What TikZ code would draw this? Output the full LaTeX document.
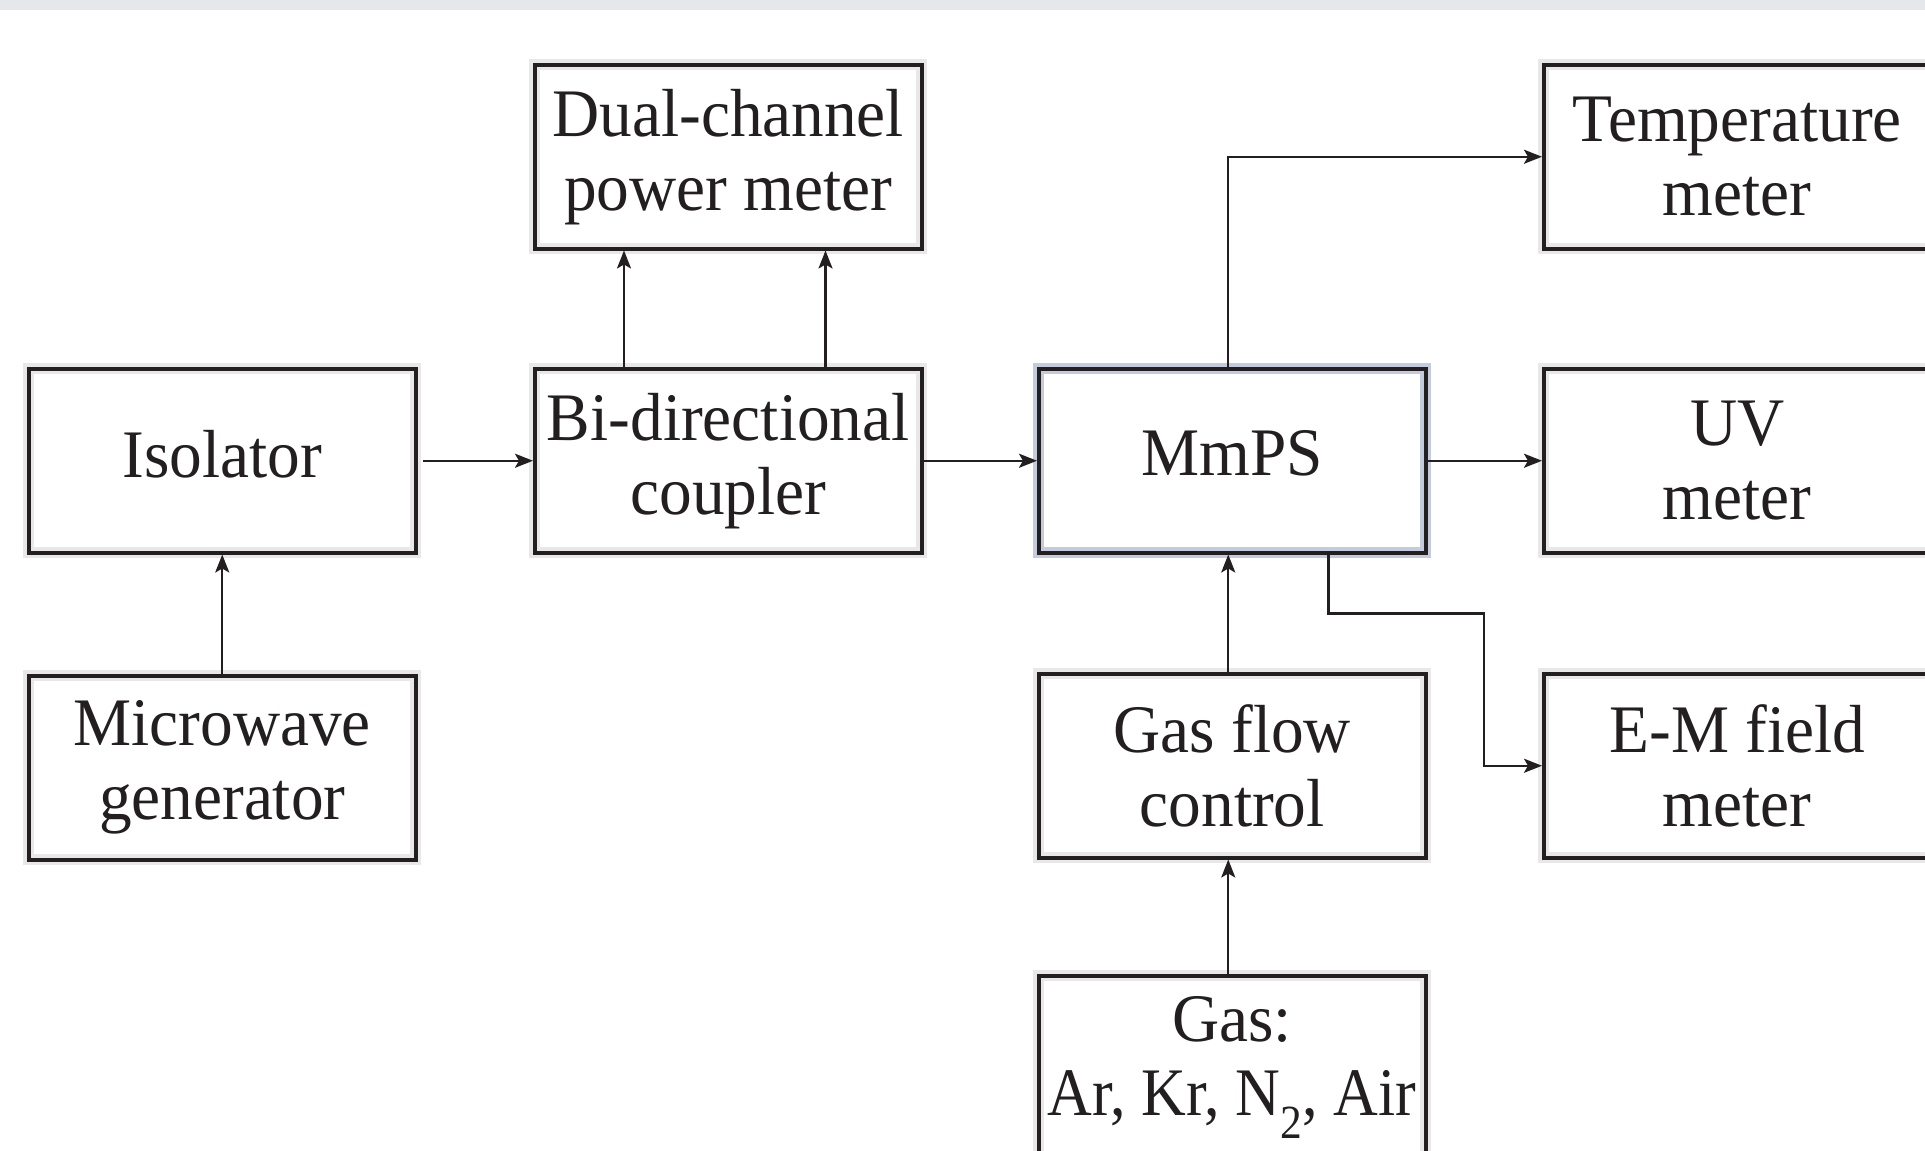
\documentclass[tikz,border=0pt]{standalone}
\usepackage{fontspec}
\setmainfont{Liberation Serif}[FakeStretch=0.96]
\usetikzlibrary{arrows.meta}
\definecolor{ink}{HTML}{231F20}
\definecolor{halo}{HTML}{E8E8E8}
\definecolor{selhalo}{HTML}{C3CBDD}
\definecolor{topbar}{HTML}{E5E7EA}
\newcommand{\oneline}[1]{\raisebox{7pt}[\height][\depth]{#1}}
\tikzset{
  blockbox/.style={draw=ink, line width=3.5pt, text=ink,
    preaction={draw=halo, line width=11pt},
    minimum width=387pt, minimum height=184pt, inner sep=0pt,
    anchor=north west, align=center,
    font=\fontsize{68}{74}\selectfont},
  selbox/.style={blockbox, preaction={draw=selhalo, line width=11pt}},
  arr/.style={draw=ink, line width=2.4pt,
    -{Stealth[length=18pt,width=14pt,inset=4pt]}}
}
\begin{document}
\begin{tikzpicture}[x=1pt,y=-1pt]
\useasboundingbox (0,0) rectangle (1925,1151);
\clip (0,0) rectangle (1925,1151);
\fill[white] (0,0) rectangle (1925,1151);
\fill[topbar] (0,0) rectangle (1925,10);

\node[blockbox] (iso) at (27,367) {\oneline{Isolator}};
\node[blockbox] (mw)  at (27,674) {Microwave\\generator};
\node[blockbox] (bi)  at (533,367) {Bi-directional\\coupler};
\node[blockbox] (pm)  at (533,63) {Dual-channel\\power meter};
\node[selbox]   (mm)  at (1037,367) {\oneline{MmPS}};
\node[blockbox] (gf)  at (1037,672) {Gas flow\\control};
\node[blockbox] (gas) at (1037,974) {Gas:\\\makebox[370pt]{\scalebox{0.95}[1]{Ar, Kr, N\textsubscript{2}, Air}}};
\node[blockbox] (tm)  at (1542,63) {Temperature\\meter};
\node[blockbox] (uv)  at (1542,367) {UV\\meter};
\node[blockbox] (em)  at (1542,672) {E-M field\\meter};

\draw[arr] ([xshift=5pt]iso.east) -- (bi.west);
\draw[arr] (mw.north) -- (iso.south);
\draw[arr] ([xshift=91pt]bi.north west) -- ([xshift=91pt]pm.south west);
\draw[arr] ([xshift=-98pt]bi.north east) -- ([xshift=-98pt]pm.south east);
\draw[arr] (bi.east) -- (mm.west);
\draw[arr] ([xshift=-4pt]mm.north) |- (tm.west);
\draw[arr] (mm.east) -- (uv.west);
\draw[arr] ([xshift=-99pt]mm.south east) -- ++(0,59) -| ([xshift=-58pt]em.west) -- (em.west);
\draw[arr] ([xshift=-4pt]gf.north) -- ([xshift=-4pt]mm.south);
\draw[arr] ([xshift=-4pt]gas.north) -- ([xshift=-4pt]gf.south);
\end{tikzpicture}
\end{document}
